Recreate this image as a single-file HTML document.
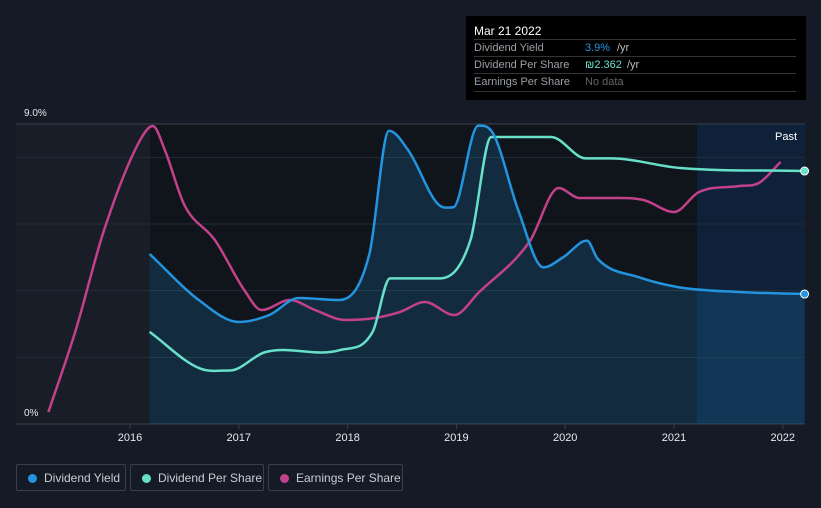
<!DOCTYPE html>
<html style="overflow:hidden"><head><meta charset="utf-8"><style>
body{margin:0;width:821px;height:508px;background:#151b26;font-family:"Liberation Sans",sans-serif;overflow:hidden;position:relative}
.tip{position:absolute;left:466px;top:16px;width:340px;height:84px;background:#000;color:#fff;font-size:11px}
.tip .row{position:absolute;left:8px;width:322px;border-top:1px solid #333;height:17px;line-height:17px;color:#9aa0a8}
.leg{position:absolute;top:464px;height:27px;border:1px solid #3a404b;border-radius:2px;color:#c8ccd2;font-size:12px;line-height:27px;box-sizing:border-box;white-space:nowrap;overflow:hidden}
.leg i{position:absolute;left:11px;top:9px;width:9px;height:9px;border-radius:50%}
.leg span{position:absolute;left:27px;white-space:nowrap}
</style></head><body>
<svg id="c" width="821" height="508" style="position:absolute;left:0;top:0"></svg>
<div class="tip">
<div style="position:absolute;left:8px;top:8px;font-size:12px">Mar 21 2022</div>
<div class="row" style="top:23px">Dividend Yield<span style="position:absolute;left:111px;color:#2394df">3.9%</span><span style="position:absolute;left:143px;color:#bbb">/yr</span></div>
<div class="row" style="top:40px">Dividend Per Share<span style="position:absolute;left:111px;color:#67e0c9">₪2.362</span><span style="position:absolute;left:153px;color:#bbb">/yr</span></div>
<div class="row" style="top:57px;border-bottom:1px solid #333">Earnings Per Share<span style="position:absolute;left:111px;color:#666">No data</span></div>
</div>
<div class="leg" style="left:16px;width:110px"><i style="background:#2394df"></i><span>Dividend Yield</span></div>
<div class="leg" style="left:130px;width:134px"><i style="background:#67e0c9"></i><span>Dividend Per Share</span></div>
<div class="leg" style="left:268px;width:135px"><i style="background:#c2418a"></i><span>Earnings Per Share</span></div>
<script>
const yieldT=[2016.18,2016.64,2017.0,2017.28,2017.55,2017.92,2018.2,2018.38,2018.56,2018.83,2018.97,2019.2,2019.34,2019.57,2019.8,2019.98,2020.2,2020.3,2020.68,2021.05,2021.6,2022.2];
const yieldV=[5.1,3.7,3.06,3.27,3.78,3.72,5.1,8.8,8.2,6.6,6.5,8.95,8.7,6.4,4.7,5.0,5.5,4.95,4.4,4.1,3.96,3.9];
const dpsT=[2016.18,2016.64,2016.92,2017.24,2017.93,2018.23,2018.39,2018.85,2019.13,2019.32,2019.87,2020.19,2020.42,2021.06,2022.2];
const dpsV=[0.86,0.52,0.5,0.67,0.69,0.86,1.36,1.36,1.72,2.68,2.68,2.48,2.48,2.39,2.362];
const epsT=[2015.25,2015.5,2015.76,2016.09,2016.21,2016.32,2016.5,2016.78,2017.05,2017.21,2017.47,2017.7,2017.98,2018.25,2018.48,2018.71,2018.98,2019.21,2019.67,2019.94,2020.13,2020.4,2020.72,2021.0,2021.23,2021.6,2021.78,2021.98];
const epsV=[0.36,2.8,5.8,8.5,8.94,8.22,6.57,5.52,4.02,3.42,3.72,3.42,3.12,3.18,3.36,3.66,3.27,3.96,5.46,7.08,6.78,6.78,6.72,6.36,6.96,7.14,7.23,7.86];
const yTicks=["0%","9.0%"];const xTicks=[2016,2017,2018,2019,2020,2021,2022];
const X=t=>130+(t-2016)*108.8, Y=v=>424-v*33.33, YD=v=>424-v*107.1;
const s=document.getElementById('c');const NS='http://www.w3.org/2000/svg';
function el(n,a){const e=document.createElementNS(NS,n);for(const k in a)e.setAttribute(k,a[k]);s.appendChild(e);return e}
function path(px,py){let n=px.length,d=[],m=[];for(let i=0;i<n-1;i++)d.push((py[i+1]-py[i])/(px[i+1]-px[i]));
for(let i=0;i<n;i++){if(i==0)m.push(d[0]);else if(i==n-1)m.push(d[n-2]);else m.push(d[i-1]*d[i]<=0?0:(d[i-1]+d[i])/2)}
let p='M'+px[0]+','+py[0];for(let i=0;i<n-1;i++){const h=(px[i+1]-px[i])/3;p+=`C${px[i]+h},${py[i]+m[i]*h} ${px[i+1]-h},${py[i+1]-m[i+1]*h} ${px[i+1]},${py[i+1]}`}return p}
let r=el('rect',{x:16,y:124,width:134,height:300,fill:'#181d27'});
r=el('rect',{x:150,y:124,width:547,height:300,fill:'#10141b'});
r=el('rect',{x:697,y:124,width:108,height:300,fill:'#0f2138'});
[2,4,6,8].forEach(v=>{const g=el('line',{x1:16,x2:805,y1:Y(v),y2:Y(v),stroke:'#252b36'});});
let l=el('line',{x1:16,x2:805,y1:124,y2:124,stroke:'#3a404b'});
l=el('line',{x1:16,x2:805,y1:424,y2:424,stroke:'#3a404b'});
xTicks.forEach(t=>{let k=el('line',{x1:X(t),x2:X(t),y1:424,y2:429,stroke:'#3a404b'});
let tx=el('text',{x:X(t),y:441,fill:'#e6e8eb','font-size':11,'text-anchor':'middle'});tx.textContent=t;});
let ya=el('text',{x:24,y:116,fill:'#e6e8eb','font-size':10});ya.textContent=yTicks[1];
ya=el('text',{x:24,y:416,fill:'#e6e8eb','font-size':10});ya.textContent=yTicks[0];
let pt=el('text',{x:797,y:140,fill:'#fff','font-size':11,'text-anchor':'end'});pt.textContent='Past';
const yx=yieldT.map(X),yy=yieldV.map(Y);const yp=path(yx,yy);
let a=el('path',{d:yp+`L${yx[yx.length-1]},424L${yx[0]},424Z`,fill:'#2394df','fill-opacity':0.18});
let e=el('path',{d:path(epsT.map(X),epsV.map(Y)),fill:'none',stroke:'#c2418a','stroke-width':2.5});
let dl=el('path',{d:path(dpsT.map(X),dpsV.map(YD)),fill:'none',stroke:'#67e0c9','stroke-width':2.5});
let yl=el('path',{d:yp,fill:'none',stroke:'#2394df','stroke-width':2.5});
let c1=el('circle',{cx:X(dpsT[dpsT.length-1]),cy:YD(dpsV[dpsV.length-1]),r:4,fill:'#67e0c9',stroke:'#fff','stroke-width':1});
let c2=el('circle',{cx:X(yieldT[yieldT.length-1]),cy:Y(yieldV[yieldV.length-1]),r:4,fill:'#2394df',stroke:'#fff','stroke-width':1});
</script>
</body></html>
